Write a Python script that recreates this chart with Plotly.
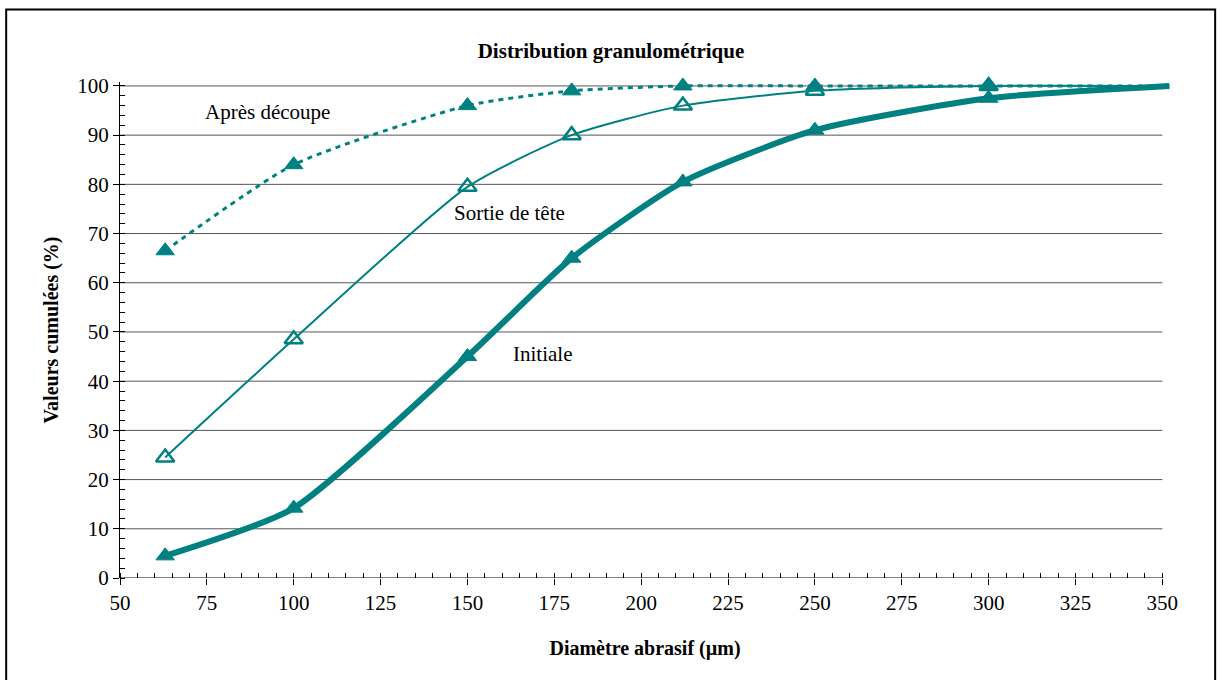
import plotly.graph_objects as go

# Granulometric distribution: cumulative passing (%) vs abrasive diameter (µm)
diametre = [63, 100, 150, 180, 212, 250, 300, 352]
initiale = [4.5, 14.2, 45.0, 65.0, 80.5, 91.0, 97.5, 100.0]
sortie_tete = [24.5, 48.5, 79.5, 90.0, 96.0, 99.0, 100.0, 100.0]
apres_decoupe = [66.5, 84.0, 96.0, 99.0, 100.0, 100.0, 100.0, 100.0]

y_ticks = list(range(0, 101, 10))
x_min, x_max = 50, 350

teal = "#008080"
font_family = "Times New Roman, serif"

n_marked = 7  # last point only closes the curve, no marker


def marker_sizes(n):
    return [16] * n_marked + [0] * (n - n_marked)


fig = go.Figure()

# horizontal gridlines limited to the 50–350 span
for yv in y_ticks[1:]:
    fig.add_shape(type="line", xref="x", yref="y", x0=x_min, x1=x_max, y0=yv, y1=yv,
                  line=dict(color="#555555", width=1), layer="below")
# x axis line
fig.add_shape(type="line", xref="x", yref="y", x0=x_min, x1=x_max, y0=0, y1=0,
              line=dict(color="black", width=1), layer="below")

fig.add_trace(go.Scatter(
    x=diametre, y=apres_decoupe, mode="lines+markers", name="Après découpe",
    line=dict(color=teal, width=3, dash="5px,5px", shape="spline", smoothing=0.6),
    marker=dict(symbol="triangle-up", size=marker_sizes(len(diametre)), color=teal,
                opacity=1, line=dict(width=1, color=teal)),
    cliponaxis=False,
))
fig.add_trace(go.Scatter(
    x=diametre, y=sortie_tete, mode="lines+markers", name="Sortie de tête",
    line=dict(color=teal, width=2, shape="spline", smoothing=0.6),
    marker=dict(symbol="triangle-up-open", size=marker_sizes(len(diametre)),
                color=teal, opacity=1, line=dict(width=2.5, color=teal)),
    cliponaxis=False,
))
fig.add_trace(go.Scatter(
    x=diametre, y=initiale, mode="lines+markers", name="Initiale",
    line=dict(color=teal, width=6, shape="spline", smoothing=0.6),
    marker=dict(symbol="triangle-up", size=marker_sizes(len(diametre)), color=teal,
                opacity=1, line=dict(width=1, color=teal)),
    cliponaxis=False,
))

labels = [
    ("Après découpe", 92.5, 94.7),
    ("Sortie de tête", 162, 74.2),
    ("Initiale", 171.5, 45.5),
]
for text, x, y in labels:
    fig.add_annotation(x=x, y=y, text=text, showarrow=False,
                       font=dict(family=font_family, size=21, color="black"))

# outer frame of the chart
fig.add_shape(type="rect", xref="paper", yref="paper",
              x0=-0.1084, x1=1.043, y0=-0.25, y1=1.146,
              line=dict(color="black", width=2), layer="below")

fig.update_layout(
    width=1223, height=680,
    margin=dict(l=120, r=53, t=82, b=102),
    paper_bgcolor="white", plot_bgcolor="white",
    showlegend=False,
    font=dict(family=font_family, size=21, color="black"),
    title=dict(text="<b>Distribution granulométrique</b>", x=0.4996, xanchor="center",
               y=0.926, yanchor="middle",
               font=dict(family=font_family, size=21, color="black")),
    xaxis=dict(
        range=[x_min, 352.2], dtick=25, tick0=50,
        showgrid=False, zeroline=False, showline=False,
        ticks="outside", ticklen=6, tickcolor="black",
        minor=dict(dtick=5, ticks="inside", ticklen=5, tickcolor="black"),
        title=dict(text="<b>Diamètre abrasif (µm)</b>", standoff=26,
                   font=dict(family=font_family, size=20)),
        tickfont=dict(family=font_family, size=21),
    ),
    yaxis=dict(
        range=[0, 100.8], tickvals=y_ticks,
        showgrid=False, zeroline=False,
        showline=True, linecolor="black", linewidth=1,
        ticks="outside", ticklen=6, tickcolor="black",
        minor=dict(dtick=2, ticks="inside", ticklen=5, tickcolor="black", showgrid=False),
        title=dict(text="<b>Valeurs cumulées (%)</b>", standoff=13,
                   font=dict(family=font_family, size=20)),
        tickfont=dict(family=font_family, size=21),
    ),
)

fig.write_html("out.html")
